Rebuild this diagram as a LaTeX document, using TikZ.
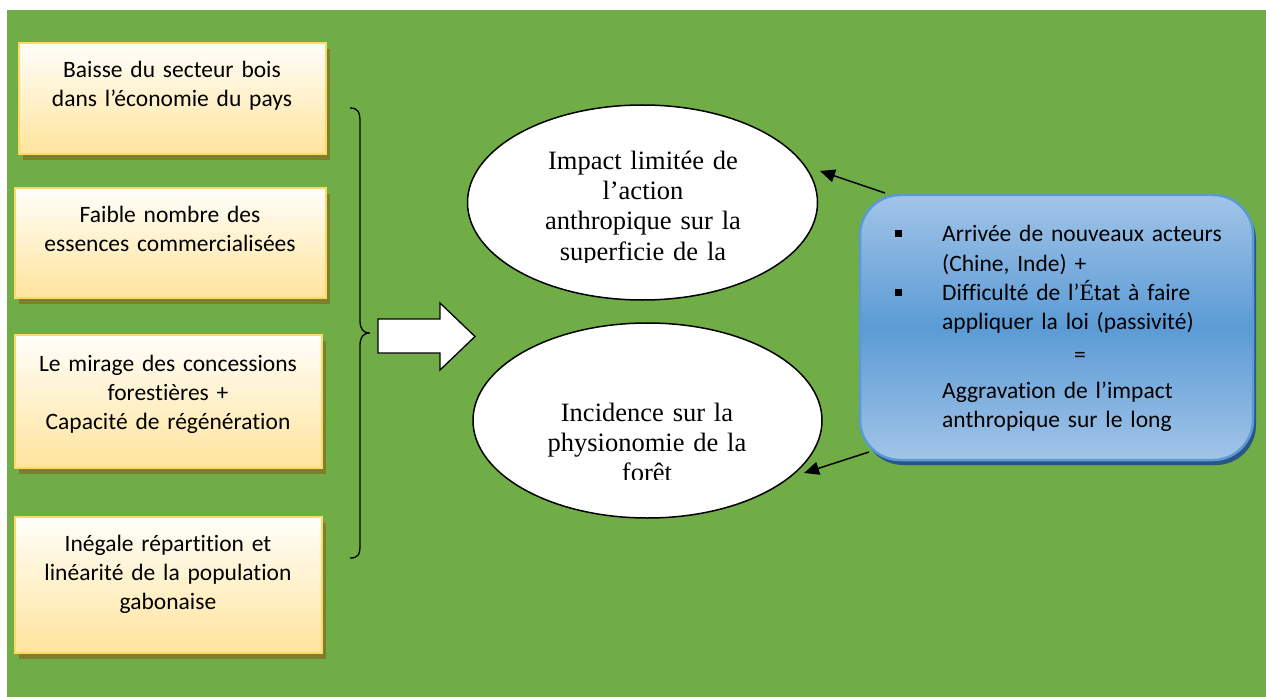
\documentclass[tikz,border=0pt]{standalone}
\usepackage{fontspec}
\setmainfont{Carlito}[Ligatures=NoCommon]
\newfontfamily\tnr{Liberation Serif}
\usetikzlibrary{shapes.geometric,shadows,arrows.meta,calc}
\definecolor{bggreen}{HTML}{70AD47}
\definecolor{boxborder}{HTML}{FFD966}
\definecolor{boxtop}{HTML}{FFFEFA}
\definecolor{boxbot}{HTML}{FFE49C}
\definecolor{boxshadow}{HTML}{7C802C}
\definecolor{btop}{HTML}{A2C4E8}
\definecolor{bmid}{HTML}{5B9BD5}
\definecolor{bborder}{HTML}{5B9BD5}
\definecolor{bshadow}{HTML}{2A5585}
\begin{document}
\begin{tikzpicture}[x=1bp,y=-1bp,
  ybox/.style={draw=boxborder, line width=2.5bp, top color=boxtop, bottom color=boxbot,
    drop shadow={shadow xshift=4bp, shadow yshift=-6bp, fill=boxshadow, opacity=1}, inner sep=0},
  bluebox/.style={draw=bborder, line width=2.5bp, rounded corners=40bp, top color=btop, bottom color=btop, middle color=bmid,
    drop shadow={shadow xshift=3bp, shadow yshift=-5bp, fill=bshadow, opacity=1}, inner sep=0},
  ellbox/.style={ellipse, draw=black, line width=1.5bp, fill=white, inner sep=0},
  ltext/.style={font=\fontsize{23.5bp}{29bp}\selectfont, align=center, text width=320bp, anchor=base, inner sep=0},
  etext/.style={font=\tnr\fontsize{26.5bp}{30bp}\selectfont, align=center, text width=340bp, anchor=base, inner sep=0},
  rtext/.style={font=\fontsize{23.5bp}{29bp}\selectfont, align=left, text width=310bp, anchor=base west, inner sep=0},
  bullet/.style={fill=black, minimum size=7bp, inner sep=0},
  conn/.style={line width=1.5bp, -{Triangle[length=15bp,width=13bp]}}
]
\useasboundingbox (0,0) rectangle (1266,697);
\fill[white] (0,0) rectangle (1266,697);
\fill[bggreen] (7,10) rectangle (1266,697);

% left boxes
\node[ybox, minimum width=307bp, minimum height=111bp] (b1) at (172.5,98.5) {};
\node[ybox, minimum width=311bp, minimum height=110bp] (b2) at (170.5,243) {};
\node[ybox, minimum width=307bp, minimum height=133bp] (b3) at (168.5,401.5) {};
\node[ybox, minimum width=307bp, minimum height=136bp] (b4) at (168.5,585) {};

\node[ltext] (b1t) at (172,78) {Baisse du secteur bois\\dans l’économie du pays};
\node[ltext] (b2t) at (170,223) {Faible nombre des\\essences commercialisées};
\node[ltext] (b3t) at (168,371) {Le mirage des concessions\\forestières +\\Capacité de régénération};
\node[ltext] (b4t) at (168,551) {Inégale répartition et\\linéarité de la population\\gabonaise};

% brace
\draw[line width=1.3bp] (350,108) .. controls (358,108) and (360,112) .. (360,122)
  -- (360,320) .. controls (360,329) and (363,333) .. (370,333)
  .. controls (363,333) and (360,337) .. (360,346)
  -- (360,545) .. controls (360,555) and (358,558) .. (350,558);

% block arrow
\draw[line width=1.3bp, fill=white] (378,319) -- (440,319) -- (440,303) -- (475,336.5)
  -- (440,370) -- (440,353) -- (378,353) -- cycle;

% ellipses
\node[ellbox, minimum width=350bp, minimum height=195bp] (e1) at (642.5,202.5) {};
\node[ellbox, minimum width=349bp, minimum height=195bp] (e2) at (647.5,420.5) {};
\begin{scope}
\clip (460,100) rectangle (840,262);
\node[etext] (e1t) at (643,170) {Impact limitée de\\l’action\\anthropique sur la\\superficie de la};
\end{scope}
\begin{scope}
\clip (460,320) rectangle (840,479);
\node[etext] (e2t) at (647,421) {Incidence sur la\\physionomie de la\\forêt};
\end{scope}

% right box
\node[bluebox, minimum width=393bp, minimum height=265bp] (rb) at (1056.5,327.5) {};
\node[bullet] (bu1) at (898,233) {};
\node[bullet] (bu2) at (898,292) {};
\node[rtext] (rt1) at (942,242) {Arrivée de nouveaux acteurs\\(Chine, Inde) +\\Difficulté de l’{\tnr É}tat à faire\\appliquer la loi (passivité)};
\node[font=\fontsize{23.5bp}{29bp}\selectfont, inner sep=0] (eq) at (1080,357) {=};
\node[rtext] (rt2) at (942,398) {Aggravation de l’impact\\anthropique sur le long};

% connectors
\coordinate (r1) at (885,193);
\coordinate (h1) at (820,171);
\coordinate (r2) at (869,452);
\coordinate (h2) at (804,473);
\draw[conn] (r1) -- (h1);
\draw[conn] (r2) -- (h2);
\end{tikzpicture}
\end{document}
